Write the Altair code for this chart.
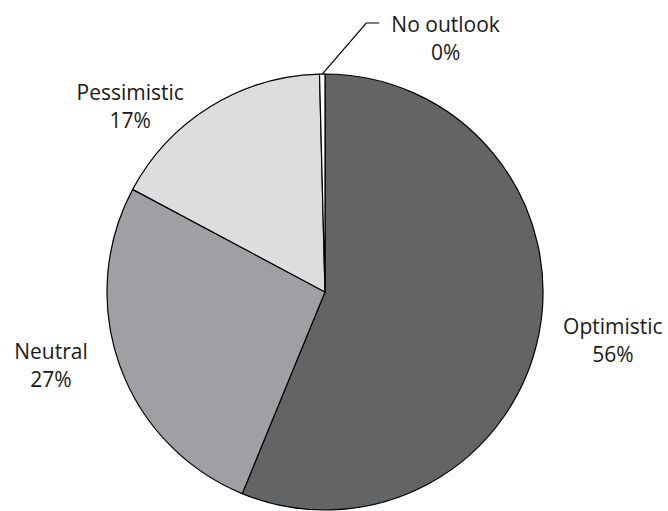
import math
import altair as alt
import pandas as pd

# Survey outlook shares (percent), drawn clockwise from 12 o'clock
categories = ["Optimistic", "Neutral", "Pessimistic", "No outlook"]
shares = [56.2, 26.6, 16.8, 0.4]
colors = ["#636466", "#9fa0a3", "#dcdddf", "#ffffff"]

# Pie geometry
CX, CY, R = 325, 292, 218
LABEL_R = 270
FONT = "Open Sans"
FONT_SIZE = 21
LINE_H = 28

# Per-label nudges from the radial anchor (pixels)
label_nudge = {
    "Optimistic": (23, -10),
    "Neutral": (-20, -24),
    "Pessimistic": (-53, 38),
    "No outlook": (124, 10),
}

df = pd.DataFrame({
    "category": categories,
    "share": shares,
    "order": list(range(len(categories))),
})
df["label"] = [f"{c}\n{round(v)}%" for c, v in zip(categories, shares)]

total = float(sum(shares))
theta_scale = alt.Scale(domain=[0, total], range=[0, 2 * math.pi])
color_scale = alt.Scale(domain=categories, range=colors)

pie = alt.Chart(df).mark_arc(radius=R, stroke="#000000", strokeWidth=1.2).encode(
    theta=alt.Theta("share:Q", stack=True, scale=theta_scale),
    order=alt.Order("order:Q"),
    color=alt.Color("category:N", scale=color_scale, legend=None),
    x=alt.value(CX),
    y=alt.value(CY),
)

# Mid angle of each slice, computed before splitting labels into layers
label_base = alt.Chart(df).transform_window(
    cum="sum(share)", sort=[alt.SortField("order")]
).transform_calculate(
    mid="datum.cum - datum.share / 2"
)

text_layers = []
for cat in categories:
    ndx, ndy = label_nudge[cat]
    text_layers.append(
        label_base.transform_filter(alt.datum.category == cat).mark_text(
            radius=LABEL_R,
            dx=ndx,
            dy=ndy,
            font=FONT,
            fontSize=FONT_SIZE,
            lineHeight=LINE_H,
            lineBreak="\n",
            align="center",
            baseline="alphabetic",
            color="#1a1a1a",
        ).encode(
            theta=alt.Theta("mid:Q", stack=None, scale=theta_scale),
            text="label:N",
            x=alt.value(CX),
            y=alt.value(CY),
        )
    )

# Leader line for the thin "No outlook" slice, starting at its mid angle on the rim
mid_frac = (sum(shares[:3]) + shares[3] / 2) / total
ang = 2 * math.pi * mid_frac
sx = CX + R * math.sin(ang)
sy = CY - R * math.cos(ang)
leader = pd.DataFrame({
    "px": [sx, sx + 44, sx + 57],
    "py": [sy, sy - 51, sy - 51],
    "k": [0, 1, 2],
})
leader_line = alt.Chart(leader).mark_line(color="#000000", strokeWidth=1.2).encode(
    x=alt.X("px:Q", scale=None, axis=None),
    y=alt.Y("py:Q", scale=None, axis=None),
    order="k:Q",
)

chart = alt.layer(pie, leader_line, *text_layers).properties(
    width=668,
    height=511,
    autosize=alt.AutoSizeParams(type="none"),
    padding=0,
    background="#ffffff",
).configure_view(stroke=None)

chart.save("out.html", embed_options={"renderer": "svg", "actions": False})
